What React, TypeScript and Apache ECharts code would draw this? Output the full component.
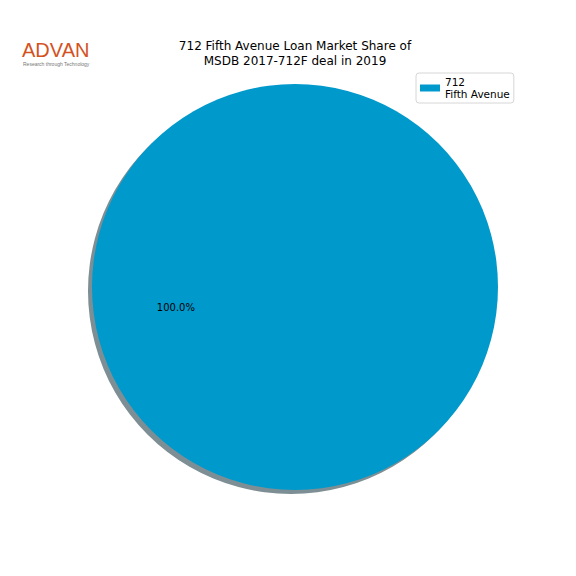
import { useEffect, useRef } from 'react'
import * as echarts from 'echarts'

const names = ['712\nFifth Avenue']
const values = [100]
const colors = ['#0099cc']

const TITLE = '712 Fifth Avenue Loan Market Share of\nMSDB 2017-712F deal in 2019'
const CX = 295
const CY = 287
const R = 203
const LABEL_ANGLE = 189.5 // degrees, counter-clockwise from 3 o'clock

export default function App() {
  const elRef = useRef<HTMLDivElement>(null)

  useEffect(() => {
    if (!elRef.current) return
    const chart = echarts.init(elRef.current, undefined, { renderer: 'svg' })
    const total = values.reduce((a, b) => a + b, 0)
    const pieData = names.map((n, i) => ({ name: n, value: values[i], itemStyle: { color: colors[i] } }))
    const rad = (LABEL_ANGLE * Math.PI) / 180

    chart.setOption({
      animation: false,
      backgroundColor: '#fff',
      title: {
        text: TITLE,
        left: CX - 5,
        textAlign: 'center',
        top: 33,
        textStyle: { fontFamily: 'DejaVu Sans', fontSize: 12, fontWeight: 'normal', color: '#000', lineHeight: 15 },
      },
      legend: {
        data: names.map((n, i) => ({ name: n, itemStyle: { color: colors[i] } })),
        left: 416,
        top: 73,
        orient: 'vertical',
        icon: 'rect',
        itemWidth: 20,
        itemHeight: 7,
        padding: [3, 4, 3, 4],
        borderColor: '#d6d6d6',
        borderWidth: 1,
        borderRadius: 3,
        textStyle: { fontFamily: 'DejaVu Sans', fontSize: 10.5, color: '#000', lineHeight: 12 },
      },
      graphic: [
        {
          type: 'text',
          left: 22,
          top: 40,
          style: { text: 'ADVAN', fill: '#d4521f', font: '20px "Liberation Sans"' },
        },
        {
          type: 'text',
          left: 23,
          top: 61,
          style: { text: 'Research through Technology', fill: '#777', font: '5px "Liberation Sans"' },
        },
      ],
      series: [
        {
          type: 'pie',
          silent: true,
          center: [CX - 4, CY + 4],
          radius: R,
          startAngle: 0,
          data: values.map((v) => ({ name: 'shadow', value: v, itemStyle: { color: '#7d8f94' } })),
          label: { show: false },
          labelLine: { show: false },
          z: 1,
        },
        {
          type: 'pie',
          center: [CX, CY],
          radius: R,
          startAngle: 0,
          data: pieData,
          z: 2,
          label: {
            show: true,
            position: 'inside',
            formatter: (p: any) => ((p.value / total) * 100).toFixed(1) + '%',
            fontFamily: 'DejaVu Sans',
            fontSize: 10,
            color: '#000',
          },
          labelLayout: () => ({
            x: CX + 0.6 * R * Math.cos(rad) + 1,
            y: CY - 0.6 * R * Math.sin(rad),
            align: 'center',
            verticalAlign: 'middle',
          }),
          labelLine: { show: false },
        },
      ],
    })

    return () => chart.dispose()
  }, [])

  return <div ref={elRef} style={{ position: 'fixed', left: 0, top: 0, width: 576, height: 576 }} />
}
